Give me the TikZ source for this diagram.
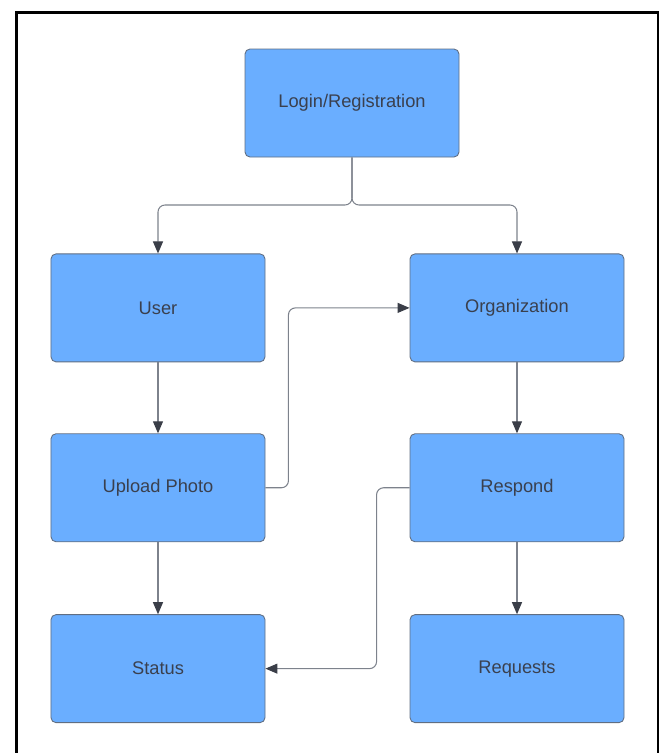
\documentclass[tikz,border=0pt]{standalone}
\usepackage{fontspec}
\setmainfont{Liberation Sans}
\usetikzlibrary{positioning,arrows.meta}
\definecolor{boxblue}{RGB}{106,174,255}
\definecolor{boxline}{RGB}{96,110,130}
\definecolor{txtgray}{RGB}{58,64,78}
\definecolor{linkgray}{RGB}{125,130,140}
\definecolor{tipgray}{RGB}{58,62,72}
\begin{document}
\begin{tikzpicture}[box/.style={rectangle,rounded corners=0.1cm,draw=boxline,line width=0.5pt,fill=boxblue,text=txtgray,inner sep=0pt,minimum width=4.28cm,minimum height=2.16cm,font=\fontsize{10.4}{12}\selectfont},
						link/.style={draw=linkgray,line width=0.6pt,rounded corners=0.14cm,-{Triangle[length=0.24cm,width=0.2cm,color=tipgray]}}]
		\useasboundingbox (0,0) rectangle (13.24,-15.06);
		\draw[line width=1.2pt] (0.33,-15.06) |- (13.16,-0.25) -- (13.16,-15.06);

		\node[box] at (7.04,-2.06)								(0)	{Login/Registration};
		\node[box,node distance=1.92cm,below=of 0,xshift=-3.88cm](1)	{User};
		\node[box,node distance=1.92cm,below=of 0,xshift=3.3cm]	(2)	{Organization};
		\node[box,node distance=1.42cm,below=of 1]				(3)	{Upload Photo};
		\node[box,node distance=1.42cm,below=of 2]				(4)	{Respond};
		\node[box,node distance=1.44cm,below=of 3]				(5)	{Status};
		\node[box,node distance=1.44cm,below=of 4]				(6)	{Requests};
		\coordinate (s) at (7.04,-4.1);

		\draw[link] (0.south) -- (s) -| (1.north);
		\draw[link] (0.south) -- (s) -| (2.north);
		\draw[link] (1) -- (3);
		\draw[link] (2) -- (4);
		\draw[link] (3) -- (5);
		\draw[link] (4) -- (6);
		\draw[link] (3.east) -- ++(0.46,0) |- (2.west);
		\draw[link] (4.west) -- ++(-0.66,0) |- (5.east);
	\end{tikzpicture}
\end{document}
